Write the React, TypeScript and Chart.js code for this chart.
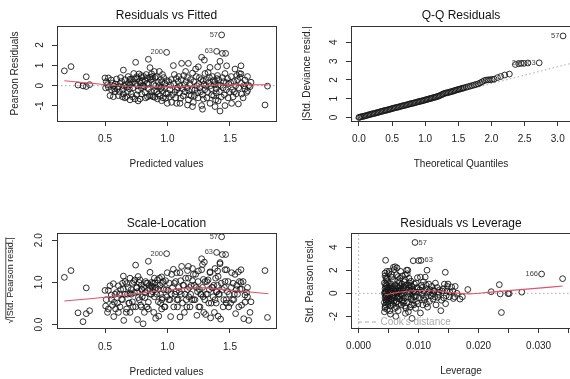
import { useEffect, useRef } from "react";
import { Chart, registerables } from "chart.js";

Chart.register(...registerables);

const FONT = "'Liberation Sans', Arial, Helvetica, sans-serif";
const INK = "#222";
const LOESS = "#DF536B";
const GUIDE = "#a8a8a8";

// ---- Residuals vs Fitted / Scale-Location (shared fitted values) ----
const fitted: number[] = [
  0.175, 0.228, 0.284, 0.324, 0.35, 0.377, 0.35,
  0.50, 0.527, 0.505, 0.527, 0.553, 0.575, 0.607, 0.585, 0.54, 0.567, 0.593, 0.52, 0.56, 0.58, 0.51, 0.60, 0.55, 0.57,
  0.633, 0.647, 0.607, 0.647, 0.673, 0.70, 0.673, 0.70, 0.62, 0.64, 0.66, 0.68, 0.69, 0.65, 0.615, 0.685, 0.66, 0.625, 0.695, 0.67, 0.64, 0.70,
  0.719, 0.735, 0.753, 0.772, 0.745, 0.793, 0.767, 0.793, 0.78, 0.74, 0.71, 0.725, 0.76, 0.775, 0.79, 0.73, 0.755, 0.785, 0.71, 0.765, 0.798, 0.745, 0.79, 0.72, 0.76,
  0.82, 0.847, 0.873, 0.90, 0.847, 0.86, 0.82, 0.847, 0.873, 0.90, 0.81, 0.83, 0.84, 0.855, 0.865, 0.88, 0.885, 0.89, 0.815, 0.835, 0.87, 0.895, 0.86, 0.825, 0.88, 0.84, 0.895, 0.805,
  0.905, 0.927, 0.953, 0.927, 0.953, 0.96, 0.97, 0.993, 0.91, 0.92, 0.935, 0.94, 0.945, 0.955, 0.965, 0.975, 0.98, 0.99, 0.995, 0.915, 0.93, 0.985, 0.96, 0.945, 0.998,
  1.047, 1.033, 1.073, 1.10, 1.01, 1.02, 1.03, 1.04, 1.05, 1.06, 1.07, 1.08, 1.09, 1.10, 1.015, 1.055, 1.065, 1.085, 1.095, 1.025, 1.075, 1.005,
  1.113, 1.167, 1.167, 1.11, 1.12, 1.13, 1.14, 1.15, 1.16, 1.17, 1.18, 1.19, 1.20, 1.125, 1.135, 1.145, 1.155, 1.175, 1.185, 1.195, 1.105, 1.16, 1.20,
  1.207, 1.273, 1.287, 1.273, 1.295, 1.225, 1.247, 1.21, 1.22, 1.23, 1.24, 1.25, 1.26, 1.27, 1.28, 1.29, 1.30, 1.215, 1.235, 1.255, 1.265, 1.285, 1.245, 1.298, 1.28,
  1.34, 1.393, 1.34, 1.38, 1.31, 1.32, 1.33, 1.35, 1.36, 1.37, 1.38, 1.39, 1.40, 1.315, 1.325, 1.345, 1.355, 1.365, 1.375, 1.385, 1.395, 1.305, 1.335, 1.39,
  1.401, 1.42, 1.433, 1.439, 1.465, 1.473, 1.42, 1.46, 1.41, 1.415, 1.425, 1.43, 1.44, 1.445, 1.45, 1.455, 1.46, 1.47, 1.48, 1.485, 1.49, 1.495, 1.405, 1.47, 1.405,
  1.513, 1.567, 1.54, 1.588, 1.588, 1.58, 1.593, 1.593, 1.51, 1.52, 1.53, 1.55, 1.56, 1.57, 1.545, 1.525, 1.505, 1.575, 1.535, 1.555,
  1.62, 1.62, 1.633, 1.668, 1.61, 1.64, 1.65, 1.605, 1.64, 1.66,
  1.80, 1.78,
];

const pearsonResid: number[] = [
  0.73, 0.94, 0.03, -0.01, -0.04, 0.05, 0.44,
  0.38, 0.38, -0.11, -0.08, -0.21, -0.16, -0.05, 0.08, -0.49, -0.54, 0.33, 0.05, 0.12, -0.30, 0.20, -0.15, 0.28, -0.02,
  0.21, 0.77, -0.49, -0.41, -0.54, -0.70, -0.08, 0.05, 0.10, -0.20, 0.30, -0.30, 0.15, -0.01, -0.30, 0.45, -0.60, 0.40, -0.15, 0.05, -0.55, 0.32,
  0.17, 0.33, 0.44, 0.58, 1.15, 0.40, -0.24, -0.41, -0.65, -0.65, -0.40, -0.10, 0.00, 0.20, -0.10, 0.60, -0.45, 0.12, 0.30, -0.75, 0.25, 0.10, 0.50, -0.55, 0.35,
  0.24, 0.08, 0.58, 0.40, 1.30, 0.89, -0.33, -0.16, -0.49, -0.57, 0.45, 0.55, -0.55, -0.50, 0.30, 0.45, -0.55, 0.05, -0.05, 0.10, -0.30, 0.70, 0.42, -0.60, 0.35, 0.38, -0.25, 0.00,
  0.00, 0.17, -0.08, -0.41, -0.74, -0.24, 0.40, 1.64, 0.45, -0.65, 0.70, -0.50, 0.30, 0.20, -0.60, -0.10, 0.10, -0.40, 0.25, -0.30, 0.00, -0.62, 0.55, -0.15, -0.87,
  0.99, -0.82, -0.87, -0.87, 0.20, -0.20, 0.30, -0.45, 0.10, -0.30, 0.35, -0.10, 0.45, 0.00, -0.55, 0.55, -0.60, 0.20, -0.35, 0.02, -0.20, -0.38,
  1.10, 1.10, -0.70, 0.30, -0.15, 0.50, -0.30, 0.20, 0.40, -0.25, 0.10, -0.50, 0.62, -0.50, 0.05, 0.70, -0.10, -0.45, 0.30, -0.20, -0.62, -0.95, -1.03,
  -0.82, -0.98, -0.66, 1.40, 1.26, 0.82, 0.93, 0.20, -0.20, 0.45, -0.35, 0.10, -0.10, 0.30, -0.45, 0.05, 0.60, -0.50, 0.00, 0.40, -0.30, 0.25, -0.60, -0.20, -1.16,
  0.90, 1.69, -0.87, -1.03, 0.30, -0.30, 0.15, -0.15, 0.45, -0.50, 0.20, -0.35, 0.50, -0.60, 0.65, 0.00, -0.45, 0.25, 0.05, -0.70, 0.35, 0.00, 0.40, -0.15,
  0.93, 1.20, 2.50, 1.59, 1.59, 0.98, -1.25, -0.98, 0.30, -0.30, 0.01, -0.55, 0.40, -0.10, 0.20, -0.45, 0.60, -0.20, 0.35, -0.60, 0.10, -0.30, -0.75, 0.15, 0.02,
  -0.87, -0.90, 0.82, 0.98, 0.58, 0.41, 0.12, -0.41, 0.45, -0.20, 0.20, -0.40, 0.30, -0.10, 0.00, -0.55, 0.15, 0.60, -0.30, 0.50,
  0.28, -0.16, -0.33, 0.17, 0.00, -0.25, 0.01, -0.60, 0.45, -0.05,
  -0.02, -0.95,
];

const sqrtStdResid: number[] = [
  1.12, 1.28, 0.28, 0.07, 0.26, 0.33, 0.87,
  0.81, 0.81, 0.44, 0.37, 0.60, 0.53, 0.29, 0.37, 0.92, 0.97, 0.76, 0.29, 0.46, 0.72, 0.59, 0.51, 0.70, 0.19,
  0.60, 1.15, 0.92, 0.84, 0.97, 1.10, 0.37, 0.29, 0.42, 0.59, 0.72, 0.72, 0.51, 0.10, 0.72, 0.88, 1.02, 0.83, 0.51, 0.29, 0.98, 0.74,
  0.54, 0.76, 0.87, 1.00, 1.41, 0.83, 0.64, 0.84, 1.06, 1.06, 0.83, 0.42, 0.12, 0.59, 0.42, 1.02, 0.88, 0.46, 0.72, 1.14, 0.66, 0.42, 0.93, 0.98, 0.78,
  0.64, 0.37, 1.00, 0.83, 1.50, 1.24, 0.76, 0.53, 0.92, 0.99, 0.88, 0.98, 0.98, 0.93, 0.72, 0.88, 0.98, 0.29, 0.29, 0.42, 0.72, 1.10, 0.85, 1.02, 0.78, 0.81, 0.66, 0.02,
  0.15, 0.54, 0.37, 0.84, 1.13, 0.64, 0.83, 1.68, 0.88, 1.06, 1.10, 0.93, 0.72, 0.59, 1.02, 0.42, 0.42, 0.83, 0.66, 0.72, 0.20, 1.04, 0.98, 0.51, 1.23,
  1.31, 1.19, 1.23, 1.23, 0.59, 0.59, 0.72, 0.88, 0.42, 0.72, 0.78, 0.42, 0.88, 0.18, 0.98, 0.98, 1.02, 0.59, 0.78, 0.19, 0.59, 0.81,
  1.38, 1.38, 1.10, 0.72, 0.51, 0.93, 0.72, 0.59, 0.83, 0.66, 0.42, 0.93, 1.04, 0.93, 0.29, 1.10, 0.42, 0.88, 0.72, 0.59, 1.04, 1.28, 1.33,
  1.19, 1.30, 1.07, 1.56, 1.48, 1.19, 1.27, 0.59, 0.59, 0.88, 0.78, 0.42, 0.42, 0.72, 0.88, 0.29, 1.02, 0.93, 0.22, 0.83, 0.72, 0.66, 1.02, 0.59, 1.42,
  1.25, 1.71, 1.23, 1.33, 0.72, 0.72, 0.51, 0.51, 0.88, 0.93, 0.59, 0.78, 0.93, 1.02, 1.06, 0.16, 0.88, 0.66, 0.29, 1.10, 0.78, 0.24, 0.83, 0.51,
  1.27, 1.44, 2.08, 1.66, 1.66, 1.30, 1.47, 1.30, 0.72, 0.72, 0.13, 0.98, 0.83, 0.42, 0.59, 0.88, 1.02, 0.59, 0.78, 1.02, 0.42, 0.72, 1.14, 0.51, 0.20,
  1.23, 1.25, 1.19, 1.30, 1.00, 0.84, 0.46, 0.84, 0.88, 0.59, 0.59, 0.83, 0.72, 0.42, 0.26, 0.98, 0.51, 1.02, 0.72, 0.93,
  0.70, 0.53, 0.76, 0.54, 0.14, 0.66, 0.10, 1.02, 0.88, 0.29,
  0.17, 1.28,
];

// smoothed trend lines (red)
const fittedSmoothX: number[] = [0.175, 0.3, 0.45, 0.6, 0.8, 1.0, 1.2, 1.4, 1.6, 1.807];
const fittedSmoothY: number[] = [0.24, 0.17, 0.08, 0.0, -0.05, -0.06, -0.02, 0.03, 0.05, 0.04];
const scaleSmoothX: number[] = [0.175, 0.4, 0.6, 0.8, 1.0, 1.2, 1.3, 1.4, 1.6, 1.807];
const scaleSmoothY: number[] = [0.56, 0.62, 0.68, 0.75, 0.82, 0.87, 0.87, 0.84, 0.79, 0.73];

// ---- Q-Q residuals (half-normal) ----
const theoQuantiles: number[] = [
  0.00, 0.01, 0.03, 0.05, 0.07, 0.09, 0.11, 0.13, 0.15, 0.17, 0.19, 0.21, 0.23, 0.25, 0.27, 0.29, 0.31, 0.33, 0.35, 0.37,
  0.39, 0.41, 0.43, 0.45, 0.47, 0.49, 0.51, 0.53, 0.55, 0.57, 0.59, 0.61, 0.63, 0.65, 0.67, 0.69, 0.71, 0.73, 0.75, 0.77,
  0.79, 0.81, 0.83, 0.85, 0.87, 0.89, 0.91, 0.93, 0.95, 0.97, 0.99, 1.01, 1.03, 1.05, 1.07, 1.09, 1.11, 1.13, 1.15, 1.17,
  1.19, 1.21, 1.23, 1.25, 1.27, 1.29, 1.31, 1.33, 1.35, 1.37, 1.39, 1.41, 1.43, 1.45, 1.47, 1.49, 1.51, 1.53, 1.55, 1.57,
  1.59, 1.62, 1.65, 1.68, 1.71, 1.74, 1.77, 1.80, 1.83, 1.86, 1.89, 1.92, 1.95, 1.98, 2.01, 2.04, 2.09, 2.14, 2.20, 2.27,
  2.36, 2.41, 2.45, 2.49, 2.55, 2.72, 3.08,
];
const absDevResid: number[] = [
  0.00, 0.01, 0.03, 0.05, 0.06, 0.08, 0.10, 0.12, 0.14, 0.16, 0.18, 0.20, 0.21, 0.23, 0.25, 0.27, 0.29, 0.31, 0.33, 0.35,
  0.37, 0.38, 0.40, 0.42, 0.44, 0.46, 0.48, 0.50, 0.52, 0.53, 0.55, 0.57, 0.59, 0.61, 0.63, 0.64, 0.66, 0.68, 0.70, 0.72,
  0.74, 0.75, 0.77, 0.79, 0.81, 0.83, 0.85, 0.86, 0.88, 0.90, 0.92, 0.94, 0.96, 0.98, 1.00, 1.02, 1.04, 1.06, 1.08, 1.10,
  1.12, 1.15, 1.18, 1.21, 1.25, 1.28, 1.30, 1.31, 1.33, 1.35, 1.37, 1.39, 1.41, 1.44, 1.46, 1.48, 1.50, 1.52, 1.54, 1.56,
  1.58, 1.61, 1.64, 1.67, 1.70, 1.73, 1.76, 1.79, 1.84, 1.90, 1.96, 1.99, 2.00, 2.01, 2.02, 2.04, 2.12, 2.18, 2.26, 2.31,
  2.82, 2.86, 2.88, 2.88, 2.90, 2.91, 4.34,
];
const qqLineX: number[] = [-0.12, 3.2];
const qqLineY: number[] = [-0.108, 2.88];

// ---- Residuals vs Leverage ----
const leverage: number[] = [
  0.0043, 0.0044, 0.0045, 0.0043, 0.0046, 0.0044, 0.0045, 0.0043, 0.0046, 0.0044, 0.0045, 0.0043, 0.0046, 0.0044, 0.0047, 0.0045, 0.0048, 0.0049, 0.0047, 0.0048,
  0.0049, 0.0047, 0.0048, 0.0050, 0.0046, 0.0044, 0.0050, 0.0050, 0.0044, 0.0046, 0.0045, 0.0047, 0.0045, 0.0046, 0.0049, 0.0044, 0.0048,
  0.0052, 0.0053, 0.0054, 0.0055, 0.0052, 0.0056, 0.0053, 0.0057, 0.0054, 0.0058, 0.0055, 0.0059, 0.0058, 0.0061, 0.0052, 0.0056, 0.0059, 0.0057, 0.0051, 0.0055,
  0.0060, 0.0060, 0.0058, 0.0061, 0.0053, 0.0051, 0.0052, 0.0053, 0.0054, 0.0056, 0.0057, 0.0058, 0.0059,
  0.0062, 0.0063, 0.0064, 0.0065, 0.0066, 0.0067, 0.0068, 0.0069, 0.0063, 0.0065, 0.0067, 0.0069, 0.0062, 0.0064, 0.0066, 0.0068, 0.0070, 0.0070, 0.0064, 0.0066,
  0.0062, 0.0063, 0.0064, 0.0065, 0.0067, 0.0068, 0.0069,
  0.0071, 0.0072, 0.0073, 0.0074, 0.0075, 0.0076, 0.0077, 0.0078, 0.0079, 0.0072, 0.0074, 0.0076, 0.0078, 0.0073, 0.0075, 0.0077, 0.0079, 0.0080, 0.0071, 0.0078,
  0.0072, 0.0074, 0.0076,
  0.0081, 0.0082, 0.0083, 0.0084, 0.0085, 0.0086, 0.0087, 0.0088, 0.0089, 0.0082, 0.0084, 0.0086, 0.0088, 0.0090, 0.0083, 0.0087, 0.0089, 0.0081, 0.0085, 0.0083,
  0.0086, 0.0088,
  0.0091, 0.0092, 0.0093, 0.0094, 0.0091, 0.0095, 0.0096, 0.0097, 0.0098, 0.0099, 0.0100, 0.0093, 0.0095, 0.0097, 0.0099, 0.0092, 0.0096,
  0.0101, 0.0102, 0.0103, 0.0104, 0.0105, 0.0106, 0.0107, 0.0108, 0.0109, 0.0110, 0.0103, 0.0106, 0.0101, 0.0108,
  0.0111, 0.0112, 0.0113, 0.0114, 0.0115, 0.0116, 0.0117, 0.0118, 0.0119, 0.0113, 0.0112, 0.0118,
  0.0121, 0.0122, 0.0124, 0.0126, 0.0128, 0.0129, 0.0123, 0.0127, 0.0125,
  0.0131, 0.0133, 0.0135, 0.0137, 0.0138, 0.0134, 0.0132, 0.0139,
  0.0141, 0.01445, 0.0143, 0.0146, 0.0148, 0.0149, 0.0145, 0.0147, 0.0142,
  0.0152, 0.0155, 0.0158, 0.0161, 0.0164, 0.0169, 0.0173, 0.0160, 0.0151, 0.0157,
  0.0182, 0.0221, 0.02345, 0.0236, 0.0238, 0.0249, 0.0251, 0.0272, 0.0305, 0.034,
];
const stdPearson: number[] = [
  -1.6, -1.3, -1.0, -0.8, -0.6, -0.4, -0.2, 0.0, 0.2, 0.4, 0.6, 0.9, 1.2, 1.5, 1.9, 2.86, -1.4, -0.9, -0.5, -0.1,
  0.3, 0.7, 1.0, 1.7, -0.3, 0.1, -0.7, 0.5, -1.15, -0.75, 0.05, 0.45, 0.8, 1.35, -0.25, 1.75, 1.3,
  -1.5, -1.1, -0.8, -0.5, -0.2, 0.0, 0.25, 0.5, 0.8, 1.1, 1.4, 2.05, 2.25, 2.3, 0.6, -0.35, -0.65, -1.0, 1.9, 1.65,
  0.2, -1.3, -0.1, 0.75, -1.8, -0.45, 0.1, 0.45, -0.6, 0.35, -0.2, 0.6, -0.4,
  -2.0, -1.2, -0.7, -0.3, 0.1, 0.5, 0.9, 1.3, 1.6, 1.1, -0.9, -0.5, 0.4, 0.0, -1.5, 0.3, -0.1, 1.9, 2.2, 1.45,
  -0.8, 0.15, 0.6, -0.45, 0.2, -0.25, 0.65,
  -1.0, -0.6, -0.2, 0.2, 0.6, 1.0, 1.2, -1.73, -1.3, 0.8, -0.8, -0.4, 0.4, 1.5, 0.0, -1.1, 0.7, 2.0, 0.35, 1.6,
  -0.05, 0.45, -0.7,
  -0.8, -0.3, 0.1, 0.5, 0.9, -1.2, -0.5, 0.3, -2.17, 2.0, 1.3, 0.7, -1.0, 0.0, -1.6, 1.05, 0.6, 1.7, -0.05, 0.7,
  0.2, -0.35,
  -0.6, 0.2, 0.8, 4.4, 2.82, -1.3, -0.2, 0.5, 1.35, -0.9, 2.83, -0.3, 0.1, -0.7, 0.4, -1.0, 0.9,
  -0.4, 0.3, -1.7, 2.85, 0.7, -0.1, -1.0, 1.0, 0.2, -0.6, 1.4, 0.5, 0.1, -0.4,
  1.4, -0.3, 0.4, 2.0, -1.2, 0.0, 0.8, -0.7, 0.3, -0.9, 0.75, 0.15,
  -0.2, 0.6, -0.5, 0.2, 0.88, -1.0, 0.0, -0.3, 0.3,
  0.5, -0.1, 0.3, -1.5, -0.6, 0.1, -0.35, 0.2,
  0.4, 1.82, 0.8, -0.2, 0.6, 0.8, -0.9, 0.2, -0.4,
  0.1, 0.55, -0.45, 0.6, 0.0, -0.5, -0.3, -0.3, -0.3, 0.2,
  0.33, 0.14, 0.75, -0.05, -1.66, -0.02, -0.02, 0.1, 1.67, 1.27,
];
const leverageSmoothX: number[] = [0.0043, 0.0055, 0.007, 0.009, 0.011, 0.013, 0.015, 0.017, 0.0185, 0.022, 0.026, 0.030, 0.034];
const leverageSmoothY: number[] = [-0.15, -0.02, 0.12, 0.22, 0.25, 0.2, 0.1, 0.0, -0.05, 0.1, 0.28, 0.45, 0.63];

type XY = { x: number; y: number };
const zip = (xs: number[], ys: number[]): XY[] => xs.map((x, i) => ({ x, y: ys[i] }));

interface Mark { x: number; y: number; text: string; side: "left" | "right" }

interface PanelSpec {
  title: string;
  titleY: number;
  xTitle: string;
  yTitle: string;
  yTitleSize: number;
  xRange: [number, number];
  yRange: [number, number];
  xTicks: number[];
  yTicks: number[];
  xLabel: (v: number) => string;
  yLabel: (v: number) => string;
  padTop: number;
  padRight: number;
  yAxisWidth: number;
  xAxisHeight: number;
  xTitleGap: number;
  yTitleGap: number;
  xTickGap: number;
  yTickGap: number;
  datasets: any[];
  marks: Mark[];
  cooksLegend?: boolean;
  radicalBar?: boolean;
}

const pointsDataset = (data: XY[]) => ({
  data,
  showLine: false,
  pointRadius: 2.9,
  pointHoverRadius: 2.9,
  pointBorderWidth: 1,
  pointBorderColor: "rgba(20,20,20,0.88)",
  pointBackgroundColor: "rgba(0,0,0,0)",
});

const smoothDataset = (data: XY[]) => ({
  data,
  showLine: true,
  pointRadius: 0,
  borderColor: LOESS,
  borderWidth: 1.1,
  tension: 0.35,
});

const dottedDataset = (data: XY[]) => ({
  data,
  showLine: true,
  pointRadius: 0,
  borderColor: GUIDE,
  borderWidth: 1,
  borderDash: [1.5, 2.5],
});

const fmt1 = (v: number) => v.toFixed(1);
const fmtInt = (v: number) => String(Math.round(v));

const P1_X: [number, number] = [0.116, 1.868];
const P1_Y: [number, number] = [-1.74, 2.94];
const P4_X: [number, number] = [-0.00127, 0.0354];
const P4_Y: [number, number] = [-3.0, 5.22];

const residualsVsFitted: PanelSpec = {
  title: "Residuals vs Fitted",
  titleY: 16,
  xTitle: "Predicted values",
  yTitle: "Pearson Residuals",
  yTitleSize: 10,
  xRange: P1_X,
  yRange: P1_Y,
  xTicks: [0.5, 1.0, 1.5],
  yTicks: [-1, 0, 1, 2],
  xLabel: fmt1,
  yLabel: fmtInt,
  padTop: 26,
  padRight: 9,
  yAxisWidth: 57,
  xAxisHeight: 69,
  xTitleGap: 20,
  yTitleGap: 9,
  xTickGap: 7,
  yTickGap: 6.9,
  datasets: [
    smoothDataset(zip(fittedSmoothX, fittedSmoothY)),
    pointsDataset(zip(fitted, pearsonResid)),
    dottedDataset(zip(P1_X, [0, 0])),
  ],
  marks: [
    { x: 1.433, y: 2.5, text: "57", side: "left" },
    { x: 0.993, y: 1.64, text: "200", side: "left" },
    { x: 1.393, y: 1.69, text: "63", side: "left" },
  ],
};

const qqResiduals: PanelSpec = {
  title: "Q-Q Residuals",
  titleY: 16,
  xTitle: "Theoretical Quantiles",
  yTitle: "|Std. Deviance resid.|",
  yTitleSize: 10,
  xRange: [-0.12, 3.2],
  yRange: [-0.19, 4.87],
  xTicks: [0, 0.5, 1.0, 1.5, 2.0, 2.5, 3.0],
  yTicks: [0, 1, 2, 3, 4],
  xLabel: fmt1,
  yLabel: fmtInt,
  padTop: 26,
  padRight: 4,
  yAxisWidth: 66,
  xAxisHeight: 69,
  xTitleGap: 20,
  yTitleGap: 16.7,
  xTickGap: 7,
  yTickGap: 8.9,
  datasets: [
    pointsDataset(zip(theoQuantiles, absDevResid)),
    dottedDataset(zip(qqLineX, qqLineY)),
  ],
  marks: [
    { x: 3.08, y: 4.34, text: "57", side: "left" },
    { x: 2.72, y: 2.91, text: "63", side: "left" },
    { x: 2.55, y: 2.9, text: "200", side: "left" },
  ],
};

const scaleLocation: PanelSpec = {
  title: "Scale-Location",
  titleY: 33.5,
  xTitle: "Predicted values",
  yTitle: "\u221A|Std. Pearson resid.|",
  yTitleSize: 9,
  xRange: P1_X,
  yRange: [-0.08, 2.17],
  xTicks: [0.5, 1.0, 1.5],
  yTicks: [0, 1, 2],
  xLabel: fmt1,
  yLabel: fmt1,
  padTop: 43,
  padRight: 9,
  yAxisWidth: 57,
  xAxisHeight: 52,
  xTitleGap: 2,
  yTitleGap: 4.9,
  xTickGap: 8,
  yTickGap: 5.4,
  datasets: [
    smoothDataset(zip(scaleSmoothX, scaleSmoothY)),
    pointsDataset(zip(fitted, sqrtStdResid)),
  ],
  marks: [
    { x: 1.433, y: 2.08, text: "57", side: "left" },
    { x: 0.993, y: 1.68, text: "200", side: "left" },
    { x: 1.393, y: 1.71, text: "63", side: "left" },
  ],
  radicalBar: true,
};

const residualsVsLeverage: PanelSpec = {
  title: "Residuals vs Leverage",
  titleY: 33.5,
  xTitle: "Leverage",
  yTitle: "Std. Pearson resid.",
  yTitleSize: 10,
  xRange: P4_X,
  yRange: P4_Y,
  xTicks: [0, 0.005, 0.01, 0.015, 0.02, 0.025, 0.03, 0.035],
  yTicks: [-2, 0, 2, 4],
  xLabel: (v) => (Math.round(v * 1000) % 10 === 0 ? v.toFixed(3) : ""),
  yLabel: fmtInt,
  padTop: 43,
  padRight: 4,
  yAxisWidth: 66,
  xAxisHeight: 52,
  xTitleGap: 2.3,
  yTitleGap: 19,
  xTickGap: 7.7,
  yTickGap: 7.3,
  datasets: [
    smoothDataset(zip(leverageSmoothX, leverageSmoothY)),
    pointsDataset(zip(leverage, stdPearson)),
    dottedDataset(zip(P4_X, [0, 0])),
    dottedDataset(zip([0, 0], P4_Y)),
  ],
  marks: [
    { x: 0.0094, y: 4.4, text: "57", side: "right" },
    { x: 0.0104, y: 2.85, text: "63", side: "right" },
    { x: 0.0305, y: 1.67, text: "166", side: "left" },
  ],
  cooksLegend: true,
};

// frame, caption, point ids and legend drawn on top of each panel
function decorations(spec: PanelSpec) {
  return {
    id: "panelDecor",
    afterDraw(chart: Chart) {
      const { ctx, chartArea: a, scales } = chart;
      ctx.save();
      ctx.strokeStyle = "#333";
      ctx.lineWidth = 1;
      ctx.setLineDash([]);
      ctx.strokeRect(Math.round(a.left) + 0.5, Math.round(a.top) + 0.5, Math.round(a.right - a.left), Math.round(a.bottom - a.top));

      ctx.fillStyle = "#111";
      ctx.font = `12px ${FONT}`;
      ctx.textAlign = "center";
      ctx.textBaseline = "middle";
      ctx.fillText(spec.title, (a.left + a.right) / 2, spec.titleY);

      ctx.font = `7.5px ${FONT}`;
      ctx.fillStyle = "#444";
      for (const m of spec.marks) {
        const px = scales.x.getPixelForValue(m.x);
        const py = scales.y.getPixelForValue(m.y);
        ctx.textAlign = m.side === "left" ? "right" : "left";
        ctx.fillText(m.text, m.side === "left" ? px - 3.6 : px + 3.6, py);
      }

      if (spec.cooksLegend) {
        const y = a.bottom - 6;
        ctx.strokeStyle = GUIDE;
        ctx.setLineDash([4, 3]);
        ctx.beginPath();
        ctx.moveTo(a.left + 7, y);
        ctx.lineTo(a.left + 28, y);
        ctx.stroke();
        ctx.setLineDash([]);
        ctx.fillStyle = GUIDE;
        ctx.font = `10px ${FONT}`;
        ctx.textAlign = "left";
        ctx.fillText("Cook's distance", a.left + 29.5, y);
      }

      if (spec.radicalBar) {
        ctx.font = `${spec.yTitleSize}px ${FONT}`;
        const w = ctx.measureText(spec.yTitle).width;
        const root = ctx.measureText("\u221A").width;
        const cy = (a.top + a.bottom) / 2;
        const cx = spec.yTitleGap + spec.yTitleSize * 0.6;
        const bx = cx - spec.yTitleSize * 0.5;
        ctx.strokeStyle = INK;
        ctx.lineWidth = 0.8;
        ctx.beginPath();
        ctx.moveTo(bx, cy + w / 2 - root * 0.85);
        ctx.lineTo(bx, cy - w / 2);
        ctx.stroke();
      }
      ctx.restore();
    },
  };
}

function buildConfig(spec: PanelSpec): any {
  const tickFont = { family: FONT, size: 10 };
  return {
    type: "scatter",
    data: { datasets: spec.datasets },
    plugins: [decorations(spec)],
    options: {
      animation: false,
      responsive: false,
      devicePixelRatio: 1,
      events: [],
      layout: { padding: { left: 0, top: spec.padTop, right: spec.padRight, bottom: 0 } },
      plugins: { legend: { display: false }, tooltip: { enabled: false }, title: { display: false } },
      scales: {
        x: {
          type: "linear",
          position: "bottom",
          min: spec.xRange[0],
          max: spec.xRange[1],
          afterBuildTicks: (s: any) => {
            s.ticks = spec.xTicks.map((value) => ({ value }));
          },
          afterFit: (s: any) => {
            s.height = spec.xAxisHeight;
            s.paddingLeft = 0;
            s.paddingRight = 0;
          },
          ticks: {
            autoSkip: false,
            maxRotation: 0,
            minRotation: 0,
            padding: spec.xTickGap,
            color: INK,
            font: tickFont,
            callback: (v: any) => spec.xLabel(Number(v)),
          },
          grid: { display: true, drawOnChartArea: false, drawTicks: true, tickLength: 5, color: "#333", lineWidth: 1 },
          border: { display: false },
          title: {
            display: true,
            text: spec.xTitle,
            color: INK,
            font: { family: FONT, size: 10 },
            padding: { top: 0, bottom: spec.xTitleGap },
          },
        },
        y: {
          type: "linear",
          position: "left",
          min: spec.yRange[0],
          max: spec.yRange[1],
          afterBuildTicks: (s: any) => {
            s.ticks = spec.yTicks.map((value) => ({ value }));
          },
          afterFit: (s: any) => {
            s.width = spec.yAxisWidth;
            s.paddingTop = 0;
            s.paddingBottom = 0;
          },
          ticks: {
            autoSkip: false,
            minRotation: 90,
            maxRotation: 90,
            crossAlign: "center",
            padding: spec.yTickGap,
            color: INK,
            font: tickFont,
            callback: (v: any) => spec.yLabel(Number(v)),
          },
          grid: { display: true, drawOnChartArea: false, drawTicks: true, tickLength: 5, color: "#333", lineWidth: 1 },
          border: { display: false },
          title: {
            display: true,
            text: spec.yTitle,
            color: INK,
            font: { family: FONT, size: spec.yTitleSize },
            padding: { top: spec.yTitleGap, bottom: 0 },
          },
        },
      },
    },
  };
}

function Panel({ spec, left, top, width, height }: { spec: PanelSpec; left: number; top: number; width: number; height: number }) {
  const ref = useRef<HTMLCanvasElement>(null);
  useEffect(() => {
    if (!ref.current) return;
    const chart = new Chart(ref.current, buildConfig(spec));
    return () => chart.destroy();
  }, [spec]);
  return (
    <canvas
      ref={ref}
      width={width}
      height={height}
      style={{ position: "absolute", left, top, width, height, display: "block" }}
    />
  );
}

export default function App() {
  return (
    <div style={{ position: "fixed", left: 0, top: 0, width: 570, height: 379, overflow: "hidden", background: "#fff" }}>
      <Panel spec={residualsVsFitted} left={0} top={0} width={285} height={190} />
      <Panel spec={qqResiduals} left={285} top={0} width={290} height={190} />
      <Panel spec={scaleLocation} left={0} top={190} width={285} height={190} />
      <Panel spec={residualsVsLeverage} left={285} top={190} width={290} height={190} />
    </div>
  );
}
